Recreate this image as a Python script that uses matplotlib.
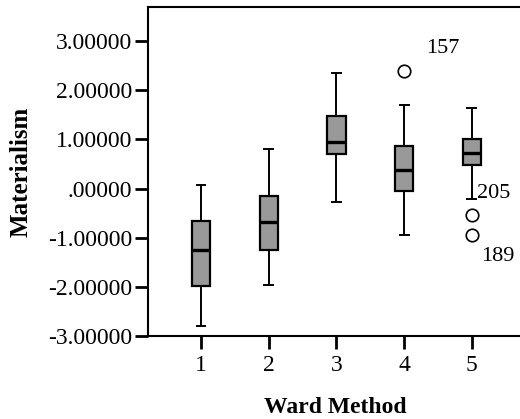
import matplotlib.pyplot as plt

plt.rcParams["font.family"] = ["Liberation Serif", "DejaVu Serif"]

groups = [1, 2, 3, 4, 5]
whisker_low = [-2.80, -1.97, -0.28, -0.95, -0.22]
quartile_1 = [-1.99, -1.24, 0.71, -0.06, 0.47]
medians = [-1.24, -0.69, 0.95, 0.38, 0.73]
quartile_3 = [-0.67, -0.16, 1.48, 0.87, 1.01]
whisker_high = [0.08, 0.81, 2.35, 1.70, 1.64]
outliers = [[], [], [], [2.39], [-0.53, -0.95]]
outlier_labels = [[], [], [], ["157"], ["205", "189"]]
label_offsets = [[], [], [], [(16, 16)], [(4, 15), (7, -15)]]

y_ticks = [3, 2, 1, 0, -1, -2, -3]
y_tick_labels = ["3.00000", "2.00000", "1.00000", ".00000",
                 "-1.00000", "-2.00000", "-3.00000"]


def main():
    fig = plt.figure(figsize=(5.2, 4.19), dpi=100)
    ax = fig.add_axes([0.285, 0.198, 0.72, 0.785])

    stats = []
    for i in range(len(groups)):
        stats.append({"med": medians[i], "q1": quartile_1[i], "q3": quartile_3[i],
                      "whislo": whisker_low[i], "whishi": whisker_high[i],
                      "fliers": outliers[i], "label": str(groups[i])})

    ax.bxp(stats, positions=groups, widths=0.27, patch_artist=True,
           boxprops=dict(facecolor="#999999", edgecolor="black", linewidth=1.6),
           medianprops=dict(color="black", linewidth=2.4),
           whiskerprops=dict(color="black", linewidth=1.4),
           capprops=dict(color="black", linewidth=1.4),
           capwidths=0.13,
           flierprops=dict(marker="o", markersize=9, markerfacecolor="white",
                           markeredgecolor="black", markeredgewidth=1.2))

    for i, pts in enumerate(outliers):
        for value, text, offset in zip(pts, outlier_labels[i], label_offsets[i]):
            ax.annotate(text, (groups[i], value), xytext=offset,
                        textcoords="offset points", fontsize=16,
                        ha="left", va="center")

    ax.set_xlim(0.22, 5.75)
    ax.set_ylim(-3, 3.69)
    ax.set_xticks(groups)
    ax.set_xticklabels([str(g) for g in groups])
    ax.set_yticks(y_ticks)
    ax.set_yticklabels(y_tick_labels)
    ax.tick_params(labelsize=17, width=2, length=9.5, color="black")
    ax.tick_params(axis="y", pad=2)
    ax.tick_params(axis="x", pad=4)

    for side in ["left", "bottom", "top"]:
        ax.spines[side].set_linewidth(1.5)
    ax.spines["right"].set_visible(False)

    ax.set_xlabel("Ward Method", fontsize=17, fontweight="bold", labelpad=15)
    ax.set_ylabel("Materialism", fontsize=18, fontweight="bold", labelpad=11)

    fig.savefig("out.png", dpi=100)
    plt.close(fig)


if __name__ == "__main__":
    main()
